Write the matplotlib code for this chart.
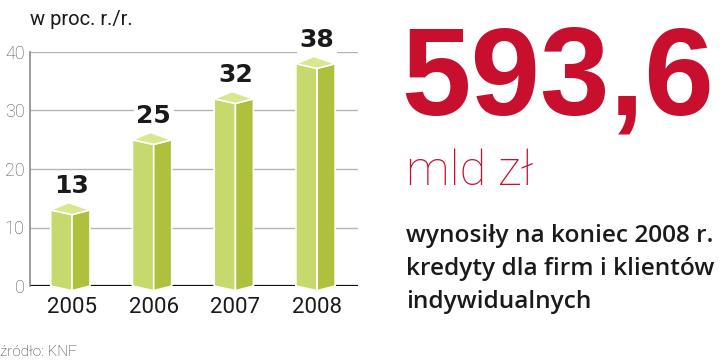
import matplotlib
matplotlib.use("Agg")
import matplotlib.pyplot as plt
from matplotlib.patches import Polygon

# dane
years = ['2005', '2006', '2007', '2008']
growth = [13, 25, 32, 38]

big_value = '593,6'
big_unit = 'mld zł'
description = ['wynosiły na koniec 2008 r.', 'kredyty dla firm i klientów', 'indywidualnych']
unit_label = 'w proc. r./r.'
source = 'źródło: KNF'

front_col = '#c6d96c'
side_col = '#afc03c'
top_col = '#d9e78f'
red = '#c8102e'

fig = plt.figure(figsize=(7.2, 3.6), dpi=100)
ax = fig.add_axes([30 / 720, 1 - 286 / 360, 328 / 720, 234 / 360])

hl, hr = 0.26, 0.22   # polowki slupka (przod / bok)
dfront, dback = 0.8, 1.25

for i, v in enumerate(growth):
    front = [(i - hl, 0), (i, -dfront), (i, v - dfront), (i - hl, v)]
    side = [(i, -dfront), (i + hr, 0), (i + hr, v), (i, v - dfront)]
    top = [(i - hl, v), (i, v - dfront), (i + hr, v), (i - hl + hr, v + dback)]
    for pts, c in [(front, front_col), (side, side_col), (top, top_col)]:
        ax.add_patch(Polygon(pts, closed=True, facecolor=c, edgecolor='white',
                             linewidth=1.2, zorder=3, clip_on=False))
    ax.text(i, v + 2.85, str(v), ha='center', va='baseline', fontsize=18,
            fontweight='bold', color='#1a1a1a', zorder=4,
            bbox=dict(facecolor='white', edgecolor='none', pad=2))

ax.set_xlim(-0.514, 3.5)
ax.set_ylim(0, 40)
ax.set_yticks([0, 10, 20, 30, 40])
ax.set_xticks(range(len(years)))
ax.set_xticklabels(years)
for y in [10, 20, 30, 40]:
    ax.axhline(y, color='#b5b5b5', lw=1, zorder=1)
ax.axhline(0, color='#111111', lw=1.6, zorder=2)

for s in ['top', 'right', 'bottom']:
    ax.spines[s].set_visible(False)
ax.spines['left'].set_color('#8a8a8a')
ax.spines['left'].set_linewidth(1.2)
ax.tick_params(axis='both', length=0)
ax.tick_params(axis='y', pad=4)
ax.tick_params(axis='x', pad=8)
for lab in ax.get_yticklabels():
    lab.set_fontfamily('Roboto')
    lab.set_fontweight('light')
    lab.set_fontsize(13)
    lab.set_color('#555555')
for lab in ax.get_xticklabels():
    lab.set_fontfamily('Roboto')
    lab.set_fontsize(16)
    lab.set_color('#1a1a1a')

fig.text(30 / 720, 1 - 25 / 360, unit_label, fontsize=14.5, family='Roboto',
         color='#1a1a1a', va='baseline')
fig.text(0, 1 - 356 / 360, source, fontsize=11, family='Roboto', fontweight='light',
         color='#333333', va='baseline')

fig.text(401 / 720, 1 - 115 / 360, big_value, fontsize=90, family='Liberation Sans',
         fontweight='bold', color=red, va='baseline')
fig.text(406 / 720, 1 - 185 / 360, big_unit, fontsize=35, family='Roboto',
         fontweight='light', color=red, va='baseline')
for k, line in enumerate(description):
    fig.text(406 / 720, 1 - (242 + 33 * k) / 360, line, fontsize=17.6, family='Open Sans',
             fontweight='semibold', color='#1a1a1a', va='baseline')

fig.savefig('out.png', dpi=100)
